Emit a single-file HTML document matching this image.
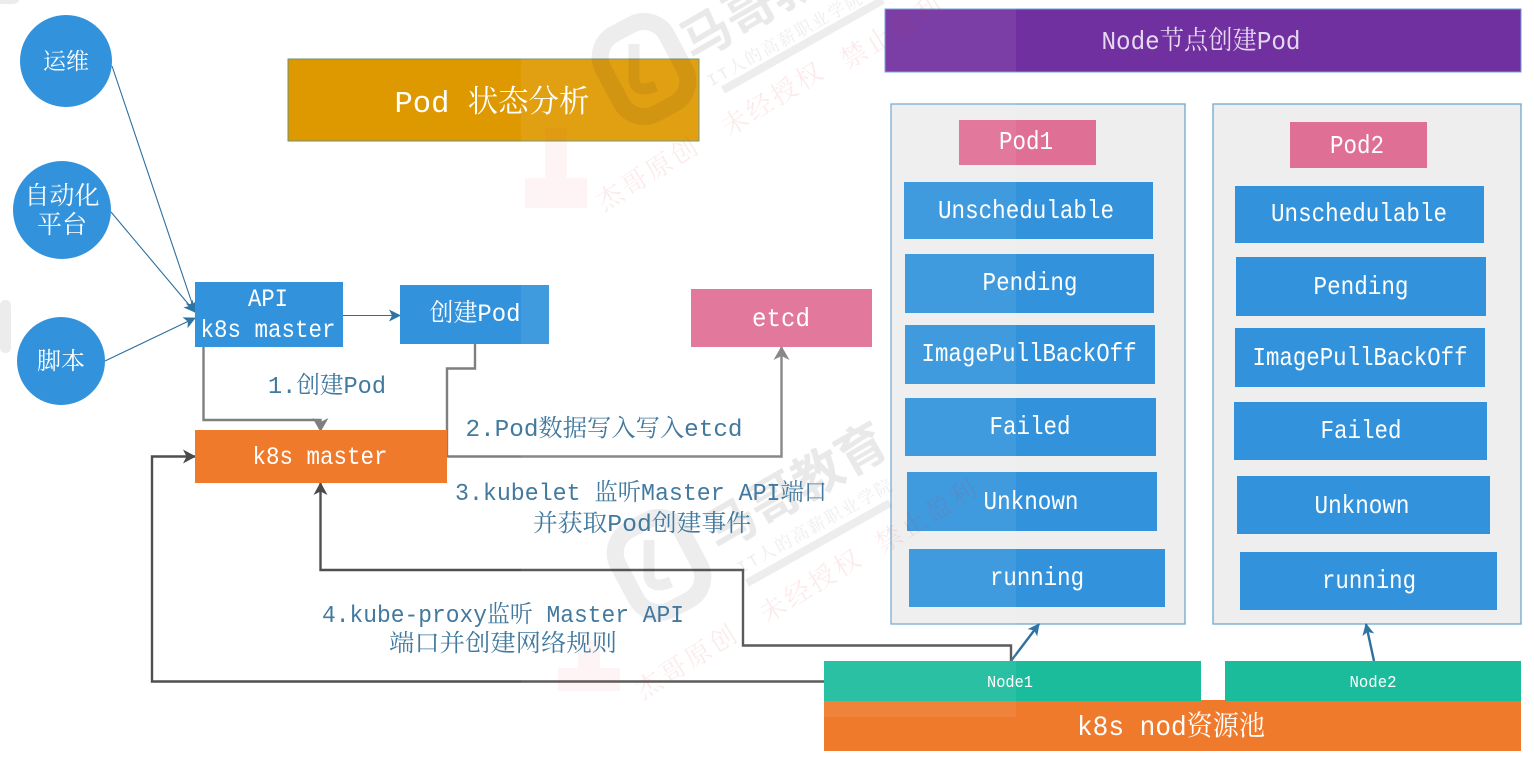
<!DOCTYPE html>
<html><head><meta charset="utf-8">
<style>
html,body{margin:0;padding:0;background:#fff;width:1534px;height:757px;overflow:hidden}
svg{display:block;filter:blur(.35px)}
text{font-family:"Liberation Mono","Noto Serif CJK SC",monospace;text-anchor:middle}
.w{fill:#fff}
.b{fill:#41799f}
</style></head><body>
<svg width="1534" height="757" viewBox="0 0 1534 757" xmlns="http://www.w3.org/2000/svg">
<defs>
<marker id="a" markerWidth="16" markerHeight="16" refX="12" refY="7" orient="auto" markerUnits="userSpaceOnUse"><path d="M0 0L13 7L0 14L3.500 7Z" fill="#4a4a4a"/></marker>
<marker id="g" markerWidth="18" markerHeight="18" refX="13" refY="8" orient="auto" markerUnits="userSpaceOnUse"><path d="M0 0L14 8L0 16L4 8Z" fill="#7f7f7f"/></marker>
<marker id="bl" markerWidth="14" markerHeight="14" refX="11" refY="6" orient="auto" markerUnits="userSpaceOnUse"><path d="M0 0L12 6L0 12L3 6Z" fill="#2e75a6"/></marker>
</defs>
<rect width="1534" height="757" fill="#fff"/>
<rect x="-10" y="-10" width="30" height="14" rx="7" fill="#ececec"/>
<rect x="0" y="300" width="11" height="53" rx="5" fill="#ececec"/>

<!-- panels -->
<rect x="891" y="104" width="294" height="520" fill="#eeeeee" stroke="#6fa8d0" stroke-width="1.3"/>
<rect x="1213" y="104" width="308" height="520" fill="#eeeeee" stroke="#6fa8d0" stroke-width="1.3"/>

<!-- connectors -->
<g fill="none" stroke="#2e6f9e" stroke-width="1.1">
<path d="M112 66L195 312" marker-end="url(#bl)"/>
<path d="M111 212L195 312" marker-end="url(#bl)"/>
<path d="M105 361L195 318" marker-end="url(#bl)"/>
<path d="M343 315.500H400" marker-end="url(#bl)"/>
</g>
<g fill="none" stroke="#7f7f7f" stroke-width="2.400">
<path d="M203.500 347V420H320.500V431" marker-end="url(#g)"/>
<path d="M475 344V368.500H447V456.500H781.500V347" marker-end="url(#g)"/>
</g>
<g fill="none" stroke="#4f4f4f" stroke-width="2.400">
<path d="M1011 661V645.500H743V570H320.500V483" marker-end="url(#a)"/>
<path d="M824 681.500H152V456.500H195" marker-end="url(#a)"/>
</g>
<g fill="none" stroke="#2e6f9e" stroke-width="2.400">
<path d="M1011 661L1039 624" marker-end="url(#bl)"/>
<path d="M1374 661L1366 624" marker-end="url(#bl)"/>
</g>

<!-- circles -->
<g fill="#3293dc">
<circle cx="66" cy="61" r="46"/>
<circle cx="62" cy="210" r="49"/>
<circle cx="61" cy="361" r="44"/>
</g>
<!-- blue boxes -->
<g fill="#3293dc">
<rect x="195" y="282" width="148" height="65"/>
<rect x="400" y="285" width="149" height="59"/>
<rect x="904" y="182" width="249" height="57"/>
<rect x="905" y="254" width="249" height="59"/>
<rect x="905" y="325" width="250" height="59"/>
<rect x="905" y="398" width="251" height="58"/>
<rect x="907" y="472" width="250" height="59"/>
<rect x="909" y="549" width="256" height="58"/>
<rect x="1235" y="186" width="249" height="57"/>
<rect x="1236" y="257" width="250" height="59"/>
<rect x="1235" y="328" width="250" height="59"/>
<rect x="1234" y="402" width="253" height="58"/>
<rect x="1237" y="476" width="253" height="58"/>
<rect x="1240" y="552" width="257" height="58"/>
</g>
<rect x="195" y="430" width="252" height="53" fill="#ef7a2c"/>
<rect x="691" y="289" width="181" height="58" fill="#e06f96"/>
<rect x="959" y="120" width="137" height="45" fill="#e06f96"/>
<rect x="1290" y="122" width="137" height="46" fill="#e06f96"/>
<rect x="288" y="59" width="411" height="82" fill="#df9900" stroke="#6f8f70" stroke-width="1"/>
<rect x="885" y="9" width="636" height="63" fill="#7030a0" stroke="#6f9fd8" stroke-width="1"/>
<rect x="824" y="700" width="697" height="51" fill="#ef7a2c"/>
<rect x="824" y="661" width="377" height="40" fill="#1abc9c"/>
<rect x="1225" y="661" width="296" height="40" fill="#1abc9c"/>

<!-- translucent overlay band -->
<rect x="521" y="0" width="495" height="717" fill="#fff" opacity="0.07"/>

<!-- watermark -->
<g opacity="0.08" fill="none" stroke="#222">
<rect x="608" y="24" width="72" height="90" rx="26" stroke-width="17" transform="rotate(-28 644 69)"/>
<path d="M634 44V80Q636 94 656 86" stroke-width="11"/>
<path d="M723 90L883 0" stroke-width="8"/>
<rect x="623" y="520" width="72" height="90" rx="26" stroke-width="17" transform="rotate(-28 659 565)"/>
<path d="M649 540V576Q651 590 671 582" stroke-width="11"/>
<path d="M747 583L890 503" stroke-width="8"/>
</g>
<g opacity="0.10" font-weight="700">
<text x="780" y="12" font-size="50" fill="#222" transform="rotate(-30 780 12)" style="font-family:'Liberation Sans','Noto Sans CJK SC',sans-serif">马哥教育</text>
<text x="805" y="502" font-size="50" fill="#222" transform="rotate(-30 805 502)" style="font-family:'Liberation Sans','Noto Sans CJK SC',sans-serif">马哥教育</text>
</g>
<g opacity="0.09" fill="#333" font-size="17">
<text x="788" y="44" letter-spacing="2" transform="rotate(-29 788 44)">IT人的高薪职业学院</text>
<text x="818" y="531" letter-spacing="2" transform="rotate(-29 818 531)">IT人的高薪职业学院</text>
</g>
<g opacity="0.10" fill="#e0343a" font-size="26">
<text x="653" y="181" letter-spacing="3" transform="rotate(-32 653 181)">杰哥原创</text>
<text x="778" y="106" letter-spacing="3" transform="rotate(-32 778 106)">未经授权</text>
<text x="897" y="39" letter-spacing="3" transform="rotate(-32 897 39)">禁止盈利</text>
<text x="692" y="669" letter-spacing="3" transform="rotate(-32 692 669)">杰哥原创</text>
<text x="816" y="593" letter-spacing="3" transform="rotate(-32 816 593)">未经授权</text>
<text x="932" y="523" letter-spacing="3" transform="rotate(-32 932 523)">禁止盈利</text>
</g>
<g fill="#e0343a" opacity="0.05">
<rect x="525" y="178" width="62" height="30"/><rect x="545" y="128" width="22" height="50"/>
<rect x="558" y="668" width="62" height="23"/><rect x="578" y="640" width="22" height="28"/>
</g>

<!-- labels -->
<g class="w">
<text x="66" y="69" font-size="23">运维</text>
<text x="62" y="204" font-size="25">自动化</text>
<text x="62" y="233" font-size="25">平台</text>
<text x="61" y="369" font-size="24">脚本</text>
<text x="268" y="306" font-size="25" textLength="40" lengthAdjust="spacingAndGlyphs">API</text>
<text x="268" y="337" font-size="25" textLength="135" lengthAdjust="spacingAndGlyphs">k8s master</text>
<text x="475" y="321" font-size="25" textLength="91" lengthAdjust="spacingAndGlyphs">创建Pod</text>
<text x="320" y="464" font-size="25" textLength="135" lengthAdjust="spacingAndGlyphs">k8s master</text>
<text x="781" y="326" font-size="26" textLength="58" lengthAdjust="spacingAndGlyphs">etcd</text>
<text x="492" y="112" font-size="31" textLength="195" lengthAdjust="spacingAndGlyphs">Pod 状态分析</text>
<text x="1201" y="49" font-size="26" fill="#e6d8f0" textLength="199" lengthAdjust="spacingAndGlyphs">Node节点创建Pod</text>
<text x="1026" y="149" font-size="26" textLength="54" lengthAdjust="spacingAndGlyphs">Pod1</text>
<text x="1357" y="153" font-size="26" textLength="54" lengthAdjust="spacingAndGlyphs">Pod2</text>
<text x="1026" y="218" font-size="26" textLength="176" lengthAdjust="spacingAndGlyphs">Unschedulable</text>
<text x="1030" y="290" font-size="26" textLength="95" lengthAdjust="spacingAndGlyphs">Pending</text>
<text x="1029" y="361" font-size="26" textLength="215" lengthAdjust="spacingAndGlyphs">ImagePullBackOff</text>
<text x="1030" y="434" font-size="26" textLength="81" lengthAdjust="spacingAndGlyphs">Failed</text>
<text x="1031" y="509" font-size="26" textLength="95" lengthAdjust="spacingAndGlyphs">Unknown</text>
<text x="1037" y="585" font-size="26" textLength="94" lengthAdjust="spacingAndGlyphs">running</text>
<text x="1359" y="221" font-size="26" textLength="176" lengthAdjust="spacingAndGlyphs">Unschedulable</text>
<text x="1361" y="294" font-size="26" textLength="95" lengthAdjust="spacingAndGlyphs">Pending</text>
<text x="1360" y="365" font-size="26" textLength="215" lengthAdjust="spacingAndGlyphs">ImagePullBackOff</text>
<text x="1361" y="438" font-size="26" textLength="81" lengthAdjust="spacingAndGlyphs">Failed</text>
<text x="1362" y="513" font-size="26" textLength="95" lengthAdjust="spacingAndGlyphs">Unknown</text>
<text x="1369" y="588" font-size="26" textLength="94" lengthAdjust="spacingAndGlyphs">running</text>
<text x="1010" y="687" font-size="17" textLength="46" lengthAdjust="spacingAndGlyphs">Node1</text>
<text x="1373" y="687" font-size="17" textLength="47" lengthAdjust="spacingAndGlyphs">Node2</text>
<text x="1171" y="735" font-size="28" textLength="188" lengthAdjust="spacingAndGlyphs">k8s nod资源池</text>
</g>
<g class="b">
<text x="327" y="393" font-size="24" textLength="118" lengthAdjust="spacingAndGlyphs">1.创建Pod</text>
<text x="604" y="436" font-size="24" textLength="277" lengthAdjust="spacingAndGlyphs">2.Pod数据写入写入etcd</text>
<text x="641" y="500" font-size="24" textLength="372" lengthAdjust="spacingAndGlyphs">3.kubelet 监听Master API端口</text>
<text x="642" y="531" font-size="24" textLength="218" lengthAdjust="spacingAndGlyphs">并获取Pod创建事件</text>
<text x="503" y="622" font-size="24" textLength="362" lengthAdjust="spacingAndGlyphs">4.kube-proxy监听 Master API</text>
<text x="503" y="651" font-size="24" textLength="228" lengthAdjust="spacingAndGlyphs">端口并创建网络规则</text>
</g>
</svg>
</body></html>
